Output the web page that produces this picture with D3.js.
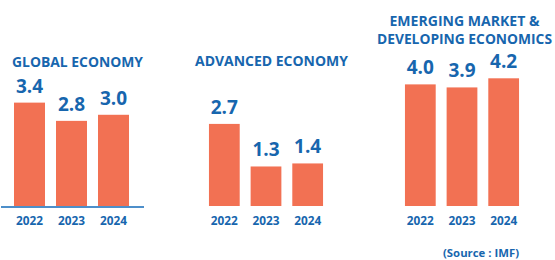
<!DOCTYPE html>
<html>
<head>
<meta charset="utf-8">
<script src="https://cdn.jsdelivr.net/npm/d3@7"></script>
<style>
  html, body { margin: 0; padding: 0; background: #ffffff; }
  svg { display: block; font-family: "Open Sans", "Noto Sans", sans-serif; font-weight: 700; }
</style>
</head>
<body>
<div id="chart"></div>
<script>
// Data
const years = ['2022', '2023', '2024'];
const globalGrowth = [3.4, 2.8, 3.0];
const advancedGrowth = [2.7, 1.3, 1.4];
const emergingGrowth = [4.0, 3.9, 4.2];
const panelTitles = [
  ['GLOBAL ECONOMY'],
  ['ADVANCED ECONOMY'],
  ['EMERGING MARKET &', 'DEVELOPING ECONOMICS']
];
const sourceNote = '(Source : IMF)';

const width = 555;
const height = 260;
const barColor = '#F27153';
const textColor = '#1766AE';
const baselineColor = '#4D8FCA';

const svg = d3.select('#chart')
  .append('svg')
  .attr('width', width)
  .attr('height', height);

// Shared value scale (same px per unit in all three panels)
const y = d3.scaleLinear()
  .domain([0, 4.2])
  .range([206, 78.3]);

// Layout of each panel: horizontal extent and title placement
const panels = [
  { values: globalGrowth, range: [8.5, 134.5], titleX: 77.5, titleY: [66.5], titleW: [131], titleSize: 15, baseline: [1, 144] },
  { values: advancedGrowth, range: [203.5, 328.5], titleX: 271.5, titleY: [65.5], titleW: [153], titleSize: 15 },
  { values: emergingGrowth, range: [399.5, 524.5], titleX: 464.5, titleY: [26, 43.5], titleW: [150, 175], titleSize: 14 }
];

panels.forEach((p, i) => {
  const g = svg.append('g').attr('class', 'panel');

  const x = d3.scaleBand()
    .domain(years)
    .range(p.range)
    .paddingInner(0.262)
    .paddingOuter(0.131);

  const data = years.map((yr, k) => ({ year: yr, value: p.values[k] }));

  g.selectAll('.bar')
    .data(data)
    .enter()
    .append('rect')
    .attr('class', 'bar')
    .attr('x', d => x(d.year))
    .attr('y', d => y(d.value))
    .attr('width', x.bandwidth())
    .attr('height', d => y(0) - y(d.value))
    .attr('fill', barColor);

  g.selectAll('.value')
    .data(data)
    .enter()
    .append('text')
    .attr('class', 'value')
    .attr('x', d => x(d.year) + x.bandwidth() / 2)
    .attr('y', d => y(d.value) - 10)
    .attr('text-anchor', 'middle')
    .attr('font-size', '19px')
    .attr('fill', textColor)
    .text(d => d.value.toFixed(1));

  if (p.baseline) {
    g.append('line')
      .attr('x1', p.baseline[0])
      .attr('x2', p.baseline[1])
      .attr('y1', y(0) + 1)
      .attr('y2', y(0) + 1)
      .attr('stroke', baselineColor)
      .attr('stroke-width', 2);
  }

  // Year labels via axis
  const axis = g.append('g')
    .attr('transform', `translate(0,${y(0)})`)
    .call(d3.axisBottom(x).tickSize(0).tickPadding(8));
  axis.select('.domain').remove();
  axis.selectAll('text')
    .attr('font-family', '"Open Sans", "Noto Sans", sans-serif')
    .attr('font-weight', 700)
    .attr('font-size', '11.8px')
    .attr('fill', textColor)
    .attr('dy', null)
    .attr('y', 18.5);

  panelTitles[i].forEach((line, j) => {
    g.append('text')
      .attr('x', p.titleX)
      .attr('y', p.titleY[j])
      .attr('text-anchor', 'middle')
      .attr('font-size', p.titleSize + 'px')
      .attr('fill', textColor)
      .attr('textLength', p.titleW[j])
      .attr('lengthAdjust', 'spacingAndGlyphs')
      .text(line);
  });
});

svg.append('text')
  .attr('x', 481)
  .attr('y', 256.5)
  .attr('text-anchor', 'middle')
  .attr('font-size', '11px')
  .attr('fill', textColor)
  .attr('textLength', 76)
  .attr('lengthAdjust', 'spacingAndGlyphs')
  .text(sourceNote);
</script>
</body>
</html>
